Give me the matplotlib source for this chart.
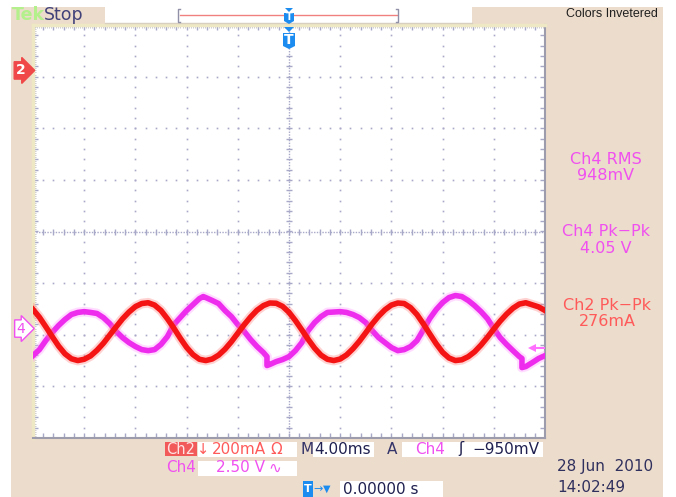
import numpy as np
import matplotlib.pyplot as plt
from matplotlib.patches import Rectangle, Polygon

# scope settings shown on screen
ch2_scale_ma = 200      # mA / div
ch4_scale_v = 2.50      # V / div
time_scale_ms = 4.00    # ms / div
ch2_ground_div = 3.12   # ground marker position (div above centre)
ch4_ground_div = -1.88

# Ch2 current trace (mA), sampled every 0.5 ms
ch2_time_ms = [-20, -19.5, -19, -18.5, -18, -17.5, -17, -16.5, -16, -15.5, -15, -14.5,
               -14, -13.5, -13, -12.5, -12, -11.5, -11, -10.5, -10, -9.5, -9, -8.5, -8,
               -7.5, -7, -6.5, -6, -5.5, -5, -4.5, -4, -3.5, -3, -2.5, -2, -1.5, -1, -0.5,
               0, 0.5, 1, 1.5, 2, 2.5, 3, 3.5, 4, 4.5, 5, 5.5, 6, 6.5, 7, 7.5, 8, 8.5, 9,
               9.5, 10, 10.5, 11, 11.5, 12, 12.5, 13, 13.5, 14, 14.5, 15, 15.5, 16, 16.5,
               17, 17.5, 18, 18.5, 19, 19.5, 20]
ch2_ma = [-926, -956, -993, -1031, -1068, -1098, -1117, -1124, -1119, -1106, -1084, -1057,
          -1025, -993, -962, -936, -915, -903, -900, -909, -930, -962, -998, -1037, -1073,
          -1101, -1119, -1124, -1118, -1103, -1080, -1051, -1018, -985, -955, -929, -911,
          -901, -902, -914, -937, -969, -1005, -1042, -1076, -1103, -1119, -1124, -1118,
          -1102, -1078, -1049, -1016, -982, -952, -927, -909, -901, -903, -919, -946, -982,
          -1021, -1059, -1092, -1114, -1124, -1121, -1109, -1090, -1064, -1034, -1002, -971,
          -944, -921, -905, -900, -908, -916, -930]

# Ch4 voltage trace (V), with the two steps
ch4_time_ms = [-20, -19.5, -19, -18.5, -18, -17.5, -17, -16.5, -16, -15.5, -15, -14.5, -14,
               -13.5, -13, -12.5, -12, -11.5, -11, -10.5, -10, -9.5, -9, -8.5, -8, -7.5, -7,
               -6.7, -6.5, -6, -5.5, -5, -4.5, -4, -3.5, -3, -2.5, -2, -1.72, -1.72, -1.5,
               -1, -0.5, 0, 0.5, 1, 1.5, 2, 2.5, 3, 3.5, 4, 4.5, 5, 5.5, 6, 6.5, 7, 7.5, 8,
               8.5, 9, 9.5, 10, 10.5, 11, 11.5, 12, 12.5, 13, 13.5, 14, 14.5, 15, 15.5, 16,
               16.5, 17, 17.5, 18, 18.2, 18.2, 18.5, 19, 19.5, 20]
ch4_v = [-1.31, -1.02, -0.58, -0.19, 0.15, 0.44, 0.68, 0.78, 0.82, 0.78, 0.73, 0.53, 0.24,
         -0.14, -0.44, -0.68, -0.87, -1.02, -1.07, -1.02, -0.77, -0.39, 0.19, 0.53, 0.87,
         1.16, 1.45, 1.55, 1.50, 1.36, 1.21, 0.87, 0.58, 0.19, -0.14, -0.53, -0.87, -1.16,
         -1.36, -1.79, -1.74, -1.60, -1.50, -1.36, -1.07, -0.68, -0.10, 0.29, 0.58, 0.78,
         0.80, 0.82, 0.78, 0.68, 0.53, 0.29, -0.10, -0.44, -0.68, -0.92, -1.07, -1.02,
         -0.87, -0.58, -0.05, 0.49, 0.92, 1.26, 1.50, 1.60, 1.55, 1.36, 1.11, 0.82, 0.48,
         0.00, -0.44, -0.77, -1.07, -1.36, -1.45, -1.89, -1.84, -1.65, -1.45, -1.31]

trigger_level_v = -0.95

W, H = 676, 497
BEIGE = '#ecdccb'
GRID = '#a8a8c8'
NAVY = '#34346a'
MAG = '#f050f0'
RED_TXT = '#ff5a5a'

fig = plt.figure(figsize=(W / 100, H / 100), dpi=100, facecolor='white')


def fx(x):
    return x / W


def fy(y):
    return 1 - y / H


def box(x0, y0, x1, y1, fc, z=-1):
    fig.patches.append(Rectangle((fx(x0), fy(y1)), fx(x1) - fx(x0), fy(y0) - fy(y1),
                                 transform=fig.transFigure, facecolor=fc, edgecolor='none',
                                 zorder=z))


def txt(x, y, s, color, size=10.5, ha='left', **kw):
    fig.text(fx(x), fy(y), s, color=color, fontsize=size, ha=ha, va='center', **kw)


# background
box(11, 7, 663, 497, BEIGE, z=-2)

# graticule
rect = [fx(33), fy(438), fx(545) - fx(33), fy(25) - fy(438)]
gax = fig.add_axes(rect)
gax.set_xlim(-5, 5)
gax.set_ylim(-4, 4)
gax.set_facecolor('white')
gax.set_xticks([])
gax.set_yticks([])
for side in ['left', 'top']:
    gax.spines[side].set_color('#efe8c4')
    gax.spines[side].set_linewidth(2.5)
for side in ['right', 'bottom']:
    gax.spines[side].set_color('#9c9cac')
    gax.spines[side].set_linewidth(1.5)

fine = np.arange(-5, 5.001, 0.2)
fine_y = np.arange(-4, 4.001, 0.2)
for xd in range(-4, 5):
    if xd == 0:
        continue
    gax.plot(np.full(fine_y.size, xd), fine_y, ls='none', marker='s', ms=1.2, mew=0,
             color=GRID)
for yd in range(-3, 4):
    if yd == 0:
        continue
    gax.plot(fine, np.full(fine.size, yd), ls='none', marker='s', ms=1.2, mew=0,
             color=GRID)

# centre crosshair
gax.axhline(0, color=GRID, lw=1, ls=(0, (1, 1)))
gax.axvline(0, color=GRID, lw=1, ls=(0, (1, 1)))
gax.plot(fine, np.zeros(fine.size), ls='none', marker='|', ms=5, mew=1, color=GRID)
gax.plot(np.zeros(fine_y.size), fine_y, ls='none', marker='_', ms=5, mew=1, color=GRID)

# border ticks
dense = np.arange(-5, 5.001, 0.04)
dense_y = np.arange(-4, 4.001, 0.04)
gax.plot(dense, np.full(dense.size, 4), ls='none', marker='|', ms=4, mew=0.6,
         color='#c0c0c8')
gax.plot(np.full(dense_y.size, -5), dense_y, ls='none', marker='_', ms=4, mew=0.6,
         color='#c0c0c8')
for ypos in [4, -4]:
    gax.plot(fine, np.full(fine.size, ypos), ls='none', marker='|', ms=7, mew=1,
             color=GRID)
for xpos in [-5, 5]:
    gax.plot(np.full(fine_y.size, xpos), fine_y, ls='none', marker='_', ms=7, mew=1,
             color=GRID)

# traces
ch4_ax = fig.add_axes(rect)
ch4_ax.set_xlim(-5 * time_scale_ms, 5 * time_scale_ms)
ch4_ax.set_ylim((-4 - ch4_ground_div) * ch4_scale_v, (4 - ch4_ground_div) * ch4_scale_v)
ch4_ax.axis('off')
ch4_ax.plot(ch4_time_ms, ch4_v, color='#ff9cff', lw=7, alpha=0.35, solid_joinstyle='round')
ch4_ax.plot(ch4_time_ms, ch4_v, color='#ee2cee', lw=4, solid_joinstyle='round')
# trigger level arrow
ch4_ax.plot([19.0, 20.0], [trigger_level_v, trigger_level_v], color='#ff70ff', lw=1.5)
ch4_ax.plot([19.0], [trigger_level_v], marker='<', ms=6, color='#ff70ff', mew=0)

ch2_ax = fig.add_axes(rect)
ch2_ax.set_xlim(-5 * time_scale_ms, 5 * time_scale_ms)
ch2_ax.set_ylim((-4 - ch2_ground_div) * ch2_scale_ma, (4 - ch2_ground_div) * ch2_scale_ma)
ch2_ax.axis('off')
ch2_ax.plot(ch2_time_ms, ch2_ma, color='#ff8080', lw=7, alpha=0.35, solid_joinstyle='round')
ch2_ax.plot(ch2_time_ms, ch2_ma, color='#f41414', lw=4, solid_joinstyle='round')

# ground markers
ch2_ax.text(-0.024, 0, '2', transform=ch2_ax.get_yaxis_transform(), ha='center',
            va='center', color='white', fontsize=10, fontweight='bold', clip_on=False,
            bbox=dict(boxstyle='rarrow,pad=0.12', fc='#f04848', ec='#f04848'))
ch4_ax.text(-0.024, 0, '4', transform=ch4_ax.get_yaxis_transform(), ha='center',
            va='center', color=MAG, fontsize=10, clip_on=False,
            bbox=dict(boxstyle='rarrow,pad=0.12', fc='white', ec=MAG, lw=1))

# header
txt(12, 15, 'Tek', '#b4f08c', size=12.5, fontweight='bold')
txt(44, 15, 'Stop', '#42427a', size=12.5)
box(105, 7, 472, 23, 'white')
fig.add_artist(plt.Line2D([fx(105), fx(472)], [fy(23), fy(23)], color='#d8cfc0', lw=1))
fig.add_artist(plt.Line2D([fx(180), fx(397)], [fy(15), fy(15)], color='#f08080', lw=1))
for bx, dx in [(178, 2), (398, -2)]:
    fig.add_artist(plt.Line2D([fx(bx + dx), fx(bx), fx(bx), fx(bx + dx)],
                              [fy(9), fy(9), fy(22), fy(22)], color='#9090a8', lw=1))
BLUE = '#1c8cf0'
for ty, tsz in [(8, (4, 5, 11)), (27, (5, 6, 16))]:
    tri, tw, th = tsz
    fig.patches.append(Polygon([(fx(289 - tri), fy(ty)), (fx(289 + tri), fy(ty)),
                                (fx(289), fy(ty + tri))], closed=True, fc=BLUE, ec='none',
                               transform=fig.transFigure, zorder=5))
    top = ty + tri + 1
    fig.patches.append(Polygon([(fx(289 - tw), fy(top)), (fx(289 + tw), fy(top)),
                                (fx(289 + tw), fy(top + th - 3)), (fx(289), fy(top + th)),
                                (fx(289 - tw), fy(top + th - 3))], closed=True, fc=BLUE,
                               ec='none', transform=fig.transFigure, zorder=5))
    fig.text(fx(289), fy(top + th / 2 - 1), 'T', color='white', fontsize=7 if th < 12 else 10,
             fontweight='bold', ha='center', va='center', zorder=6)

txt(658, 14, 'Colors Invetered', '#202020', size=9, ha='right', family='Liberation Sans')

# measurement panel
txt(606, 160, 'Ch4 RMS', MAG, size=11.5, ha='center')
txt(606, 176, '948mV', MAG, size=11.5, ha='center')
txt(606, 232, 'Ch4 Pk\u2212Pk', MAG, size=11.5, ha='center')
txt(606, 249, '4.05 V', MAG, size=11.5, ha='center')
txt(607, 305, 'Ch2 Pk\u2212Pk', RED_TXT, size=11.5, ha='center')
txt(607, 321, '276mA', RED_TXT, size=11.5, ha='center')

# bottom status bar
box(165, 442, 197, 456, '#f25a5a')
txt(166, 449, 'Ch2', '#ffe4e4')
box(198, 442, 297, 457, 'white')
txt(203, 449, '\u2193', RED_TXT, ha='center')
txt(212, 449, '200mA', RED_TXT, size=11)
txt(270, 449, '\u03a9', RED_TXT, size=11)
txt(300, 449, 'M', NAVY, size=11)
box(313, 442, 374, 457, 'white')
txt(314, 449, '4.00ms', '#202050', size=11)
txt(387, 449, 'A', NAVY, size=11)
box(402, 442, 543, 457, 'white')
txt(415, 449, 'Ch4', MAG, size=11)
txt(458, 449, '\u0283', '#202050', size=11)
txt(472, 449, '\u2212950mV', '#202050', size=11)

txt(166, 468, 'Ch4', MAG, size=11)
box(198, 461, 297, 476, 'white')
txt(216, 468, '2.50 V', MAG, size=11)
txt(268, 468, '\u223f', MAG, size=11)

box(303, 481, 313, 497, BLUE, z=5)
txt(308, 489, 'T', 'white', size=8, ha='center', fontweight='bold', zorder=6)
txt(318, 489, '\u2192', BLUE, size=8, ha='center')
txt(327, 489, '\u25bc', BLUE, size=7, ha='center')
box(340, 481, 443, 497, 'white')
txt(343, 489, '0.00000 s', '#202050', size=11)

txt(557, 467, '28 Jun  2010', '#30305e', size=11)
txt(557, 488, '14:02:49', '#30305e', size=11)

fig.savefig('out.png', dpi=100, facecolor=fig.get_facecolor())
